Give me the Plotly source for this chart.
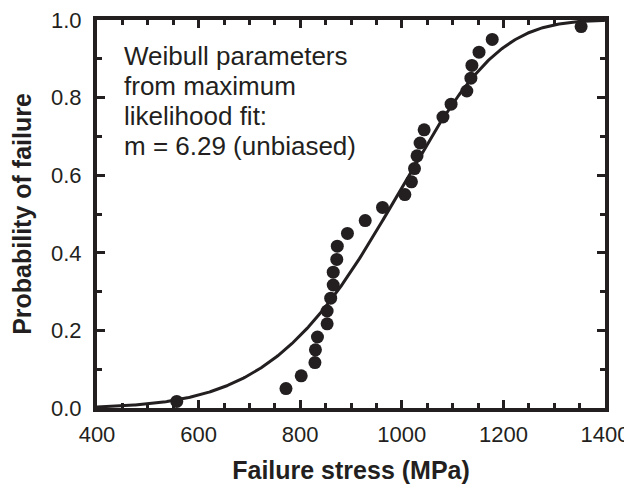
import numpy as np
import plotly.graph_objects as go

# Measured failure stresses (MPa) and their probability of failure
stress = [557, 772, 802, 829, 830, 834, 853, 853, 860, 865,
          865, 872, 873, 893, 928, 962, 1006, 1019, 1025, 1030,
          1036, 1044, 1081, 1097, 1128, 1136, 1138, 1152, 1178, 1353]
prob = [0.017, 0.050, 0.083, 0.117, 0.150, 0.183, 0.217, 0.250, 0.283, 0.317,
        0.350, 0.383, 0.417, 0.450, 0.483, 0.517, 0.550, 0.583, 0.617, 0.650,
        0.683, 0.717, 0.750, 0.783, 0.817, 0.850, 0.883, 0.917, 0.950, 0.983]

# Weibull fit parameters (modulus m, characteristic strength sigma0)
weibull_m = 6.29
sigma0 = 1028.0

x_ticks = [400, 600, 800, 1000, 1200, 1400]
y_ticks = [0.0, 0.2, 0.4, 0.6, 0.8, 1.0]

note_lines = ["Weibull parameters", "from maximum", "likelihood fit:",
              "m = 6.29 (unbiased)"]

ink = "#231f20"
font_family = "Liberation Sans, Arial, Helvetica, sans-serif"

curve_x = np.linspace(400, 1400, 400)
curve_y = 1 - np.exp(-(curve_x / sigma0) ** weibull_m)

fig = go.Figure()
fig.add_trace(go.Scatter(x=curve_x, y=curve_y, mode="lines",
                         line=dict(color=ink, width=3), hoverinfo="skip",
                         cliponaxis=True))
fig.add_trace(go.Scatter(x=stress, y=prob, mode="markers",
                         marker=dict(color=ink, size=13), cliponaxis=False))

axis_common = dict(showgrid=False, zeroline=False, showline=True,
                   linecolor=ink, linewidth=4, mirror="ticks",
                   ticks="inside", ticklen=8, tickwidth=3, tickcolor=ink,
                   automargin=False, ticklabeloverflow="allow",
                   tickfont=dict(family=font_family, size=22, color=ink))

fig.update_xaxes(range=[400, 1400], tickvals=x_ticks,
                 ticktext=[str(v) for v in x_ticks],
                 ticklabelstandoff=4,
                 minor=dict(dtick=50, ticks="inside", ticklen=5, tickwidth=3,
                            tickcolor=ink, showgrid=False),
                 title=dict(text="<b>Failure stress (MPa)</b>", standoff=16,
                            font=dict(family=font_family, size=25, color=ink)),
                 **axis_common)
fig.update_yaxes(range=[0, 1], tickvals=y_ticks,
                 ticktext=[f"{v:.1f}" for v in y_ticks],
                 ticklabelstandoff=7,
                 minor=dict(dtick=0.1, ticks="inside", ticklen=5, tickwidth=3,
                            tickcolor=ink, showgrid=False),
                 title=dict(text="<b>Probability of failure</b>", standoff=14,
                            font=dict(family=font_family, size=25, color=ink)),
                 **axis_common)

# text block: one annotation per line, 30 px line pitch
plot_h = 478 - 12 - 78
for i, line in enumerate(note_lines):
    fig.add_annotation(x=450, y=0.908 - i * 30 / plot_h, xref="x", yref="y",
                       xanchor="left", yanchor="middle", align="left",
                       showarrow=False, text=line,
                       font=dict(family=font_family, size=26, color=ink))

fig.update_layout(width=624, height=478, showlegend=False,
                  plot_bgcolor="white", paper_bgcolor="white",
                  margin=dict(l=89, r=27, t=12, b=78))

fig.write_html("out.html")
